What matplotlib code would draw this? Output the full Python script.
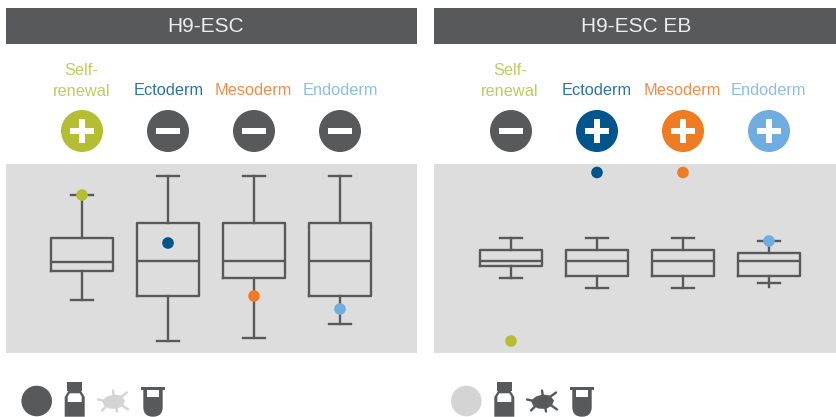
import matplotlib
matplotlib.use('Agg')
import matplotlib.pyplot as plt
from matplotlib.patches import Circle, Rectangle, Polygon, FancyBboxPatch

plt.rcParams['font.family'] = ['Liberation Sans', 'DejaVu Sans']

W, H = 837, 417
DARK = '#58595b'
GREY = '#dddddd'
LIGHT = '#d4d4d4'

# ---------------- DATA ----------------
lineages = ['Self-\nrenewal', 'Ectoderm', 'Mesoderm', 'Endoderm']
lineage_colors = ['#b5bd33', '#00558c', '#ef7b22', '#6fade0']
label_colors = ['#c3ca5f', '#2f739f', '#f48c48', '#8dbde6']

titles = ['H9-ESC', 'H9-ESC EB']
signs_esc = ['+', '-', '-', '-']
signs_eb = ['-', '+', '+', '+']

# low whisker, q1, median, q3, high whisker
esc_low = [53, 12, 15, 29]
esc_q1 = [82, 57, 75, 57]
esc_med = [91, 92, 92, 92]
esc_q3 = [115, 130, 130, 130]
esc_high = [158, 177, 177, 177]
esc_dots = [158, 110, 57, 44]

eb_low = [75, 65, 65, 70.5]
eb_q1 = [87, 77, 77, 77]
eb_med = [92, 92, 92, 92]
eb_q3 = [103, 103, 103, 100]
eb_high = [115, 115, 115, 112]
eb_dots = [12, 180.5, 180.5, 112]
eb_endo_tail = 66

fig = plt.figure(figsize=(W / 100, H / 100), dpi=100, facecolor='white')

# overlay in pixel coordinates for header, icons, labels
bg = fig.add_axes([0, 0, 1, 1])
bg.set_xlim(0, W)
bg.set_ylim(H, 0)
bg.axis('off')


def sign_icon(x, y, sign, color):
    bg.add_patch(Circle((x, y), 21, fc=color, ec='none'))
    if sign == '+':
        bg.add_patch(Rectangle((x - 12, y - 3.3), 24, 6.6, fc='white', ec='none'))
        bg.add_patch(Rectangle((x - 3.3, y - 12), 6.6, 24, fc='white', ec='none'))
    else:
        bg.add_patch(Rectangle((x - 12, y - 3), 24, 6, fc='white', ec='none'))


def bottle(x, c):
    # x is left edge
    bg.add_patch(Rectangle((x + 2.5, 382), 15, 9, fc=c, ec='none'))
    body = [(x, 416.7), (x, 397), (x + 4, 390.5), (x + 16, 390.5), (x + 20, 397), (x + 20, 416.7)]
    bg.add_patch(Polygon(body, closed=True, fc=c, ec='none'))
    window = [(x + 3, 402), (x + 3, 396.5), (x + 5, 393.3), (x + 15, 393.3), (x + 17, 396.5), (x + 17, 402)]
    bg.add_patch(Polygon(window, closed=True, fc='white', ec='none'))


def tube(x, c):
    # x is left edge of the rim
    bg.add_patch(FancyBboxPatch((x + 2.3, 380), 19.4, 36.7, boxstyle='round,pad=0,rounding_size=9.5',
                                fc=c, ec='none'))
    bg.add_patch(Rectangle((x - 1, 378), 26, 8.7, fc='white', ec='none'))
    bg.add_patch(Rectangle((x, 386.7), 24, 3, fc=c, ec='none'))
    bg.add_patch(Rectangle((x + 5.7, 389.7), 12, 7, fc='white', ec='none'))


def spider(x, y, c):
    blob = [(-11, -1), (-6, -5), (1, -7), (8, -6), (12, -1), (10, 4), (4, 7.5), (-4, 7), (-9, 4)]
    bg.add_patch(Polygon([(x + a, y + b) for a, b in blob], closed=True, fc=c, ec='none'))
    arms = [((-6, 0), (-15, -2)), ((1, -4), (0, -11)), ((6, -3), (14, -9)),
            ((-5, 3), (-11, 9)), ((3, 4), (4, 10)), ((8, 3), (15, 8))]
    for a, b in arms:
        bg.plot([x + a[0], x + b[0]], [y + a[1], y + b[1]], color=c, lw=1.7, solid_capstyle='round')


panels = [(6, 417, 82, 205.5, signs_esc, [81.5, 168.5, 253.5, 340], esc_low, esc_q1, esc_med, esc_q3, esc_high, esc_dots),
          (434, 837, 511, 636.5, signs_eb, [510, 596.5, 682, 768], eb_low, eb_q1, eb_med, eb_q3, eb_high, eb_dots)]

for n, (x0, x1, first, title_x, signs, label_x, lo, q1, med, q3, hi, dots) in enumerate(panels):
    # header
    bg.add_patch(Rectangle((x0, 8), x1 - x0, 36, fc=DARK, ec='none'))
    bg.text(title_x, 26.5, titles[n], color='#ececec', fontsize=15,
            ha='center', va='center')

    for i in range(4):
        cx = first + 86 * i
        if lineages[i].count('\n'):
            top, bottom = lineages[i].split('\n')
            bg.text(label_x[i], 70, top, color=label_colors[i], fontsize=11.8, ha='center', va='center')
            bg.text(label_x[i], 91, bottom, color=label_colors[i], fontsize=11.8, ha='center', va='center')
        else:
            bg.text(label_x[i], 90, lineages[i], color=label_colors[i], fontsize=11.8, ha='center', va='center')
        col = lineage_colors[i] if signs[i] == '+' else DARK
        sign_icon(cx, 131, signs[i], col)

    # grey panel with the boxes
    ax = fig.add_axes([x0 / W, (H - 353) / H, (x1 - x0) / W, 189 / H])
    ax.set_facecolor(GREY)
    ax.set_xlim(1 + (x0 - first) / 86, 1 + (x1 - first) / 86)
    ax.set_ylim(0, 189)
    for s in ax.spines.values():
        s.set_visible(False)
    ax.set_xticks([])
    ax.set_yticks([])
    stats = []
    for i in range(4):
        stats.append({'whislo': lo[i], 'q1': q1[i], 'med': med[i], 'q3': q3[i], 'whishi': hi[i], 'fliers': []})
    line = dict(color=DARK, linewidth=1.7)
    ax.bxp(stats, positions=[1, 2, 3, 4], widths=0.72, capwidths=0.26, showfliers=False,
           boxprops=line, medianprops=line, whiskerprops=line, capprops=line, manage_ticks=False)
    if n == 1:
        ax.plot([4, 4], [eb_low[3], eb_endo_tail], color=DARK, lw=1.7)
    ax.scatter([1, 2, 3, 4], dots, s=70, c=lineage_colors, zorder=5, linewidths=0)

# icons under the panels
bg.add_patch(Circle((36.7, 401), 15.3, fc=DARK, ec='none'))
bottle(64.7, DARK)
spider(113, 401.5, LIGHT)
tube(141, DARK)

bg.add_patch(Circle((466.3, 401), 15.3, fc=LIGHT, ec='none'))
bottle(494.3, DARK)
spider(542, 401.5, DARK)
tube(570, DARK)

fig.savefig('out.png', dpi=100)
